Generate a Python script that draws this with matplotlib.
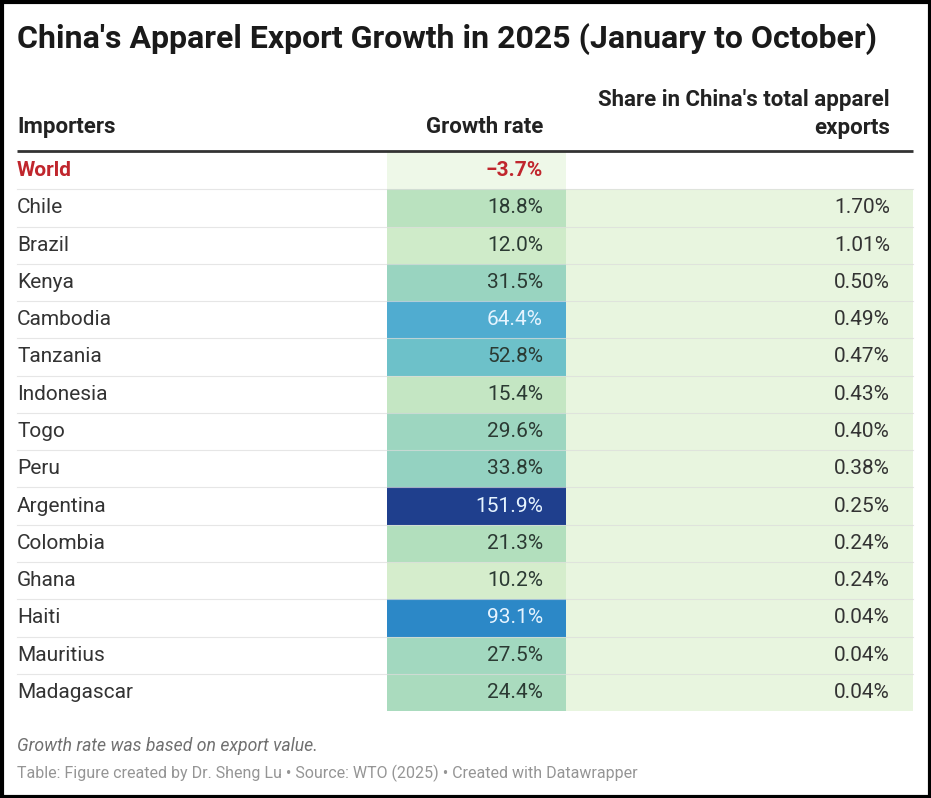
import matplotlib.pyplot as plt
from matplotlib.colors import LinearSegmentedColormap, Normalize

# Table data
importers = ["World", "Chile", "Brazil", "Kenya", "Cambodia", "Tanzania", "Indonesia",
             "Togo", "Peru", "Argentina", "Colombia", "Ghana", "Haiti", "Mauritius", "Madagascar"]
growth = [-3.7, 18.8, 12.0, 31.5, 64.4, 52.8, 15.4, 29.6, 33.8, 151.9, 21.3, 10.2, 93.1, 27.5, 24.4]
share = [None, 1.70, 1.01, 0.50, 0.49, 0.47, 0.43, 0.40, 0.38, 0.25, 0.24, 0.24, 0.04, 0.04, 0.04]

title = "China's Apparel Export Growth in 2025 (January to October)"
col_headers = ["Importers", "Growth rate", "Share in China's total apparel\nexports"]
note = "Growth rate was based on export value."
source = "Table: Figure created by Dr. Sheng Lu \u2022 Source: WTO (2025) \u2022 Created with Datawrapper"

plt.rcParams['font.family'] = ['Roboto', 'DejaVu Sans']

# colour scale for growth column
scale_vals = [-3.7, 10, 20, 30, 52, 65, 93, 152]
scale_cols = ["#eef8e8", "#d4edcb", "#b5e0bc", "#9bd5c0", "#6ec2c9", "#4eaad0", "#2c88c7", "#1f3f8d"]
norm = Normalize(min(scale_vals), max(scale_vals))
cmap = LinearSegmentedColormap.from_list(
    "dw", [(norm(v), c) for v, c in zip(scale_vals, scale_cols)])

W, H = 931, 798
fig = plt.figure(figsize=(W / 100, H / 100), dpi=100)
ax = fig.add_axes([0, 0, 1, 1])
ax.set_xlim(0, W)
ax.set_ylim(H, 0)
ax.axis("off")

top = 152
row_h = 37.27
n = len(importers)
ys = [top + row_h * (i + 0.5) for i in range(n)]
fs = 15

# cells
cell_cols = [cmap(norm(g)) for g in growth]
ax.barh(ys, 179, left=387, height=row_h, color=cell_cols, zorder=1)
share_rows = [y for y, s in zip(ys, share) if s is not None]
ax.barh(share_rows, 347, left=566, height=row_h, color="#e8f5df", zorder=1)

# row separators
for i in range(1, n):
    yb = top + row_h * i
    ax.plot([17, 913], [yb, yb], color="#dcdcdc", lw=0.8, alpha=0.7, zorder=2)

# header line
ax.plot([17, 913], [151, 151], color="#333333", lw=2.0, zorder=3, solid_capstyle="butt")

# title and headers
ax.text(17, 39, title, fontsize=23, fontweight="bold", color="#1a1a1a", va="center", ha="left")
ax.text(17, 127, col_headers[0], fontsize=16, fontweight="bold", color="#222222", va="center")
ax.text(543, 127, col_headers[1], fontsize=16, fontweight="bold", color="#222222", va="center", ha="right")
ax.text(890, 114, col_headers[2], fontsize=16, fontweight="bold", color="#222222", va="center",
        ha="right", multialignment="right", linespacing=1.3)

# rows
for i, (name, g, s) in enumerate(zip(importers, growth, share)):
    y = ys[i]
    if name == "World":
        ax.text(17, y, name, fontsize=fs, fontweight="bold", color="#c0262d", va="center")
        ax.text(543, y, "\u2212%.1f%%" % abs(g) if g < 0 else "%.1f%%" % g, fontsize=fs,
                fontweight="bold", color="#c0262d", va="center", ha="right")
        continue
    ax.text(17, y, name, fontsize=fs, color="#333333", va="center")
    tcol = "#e6f4ff" if g > 60 else "#2b3a33"
    ax.text(543, y, "%.1f%%" % g, fontsize=fs, color=tcol, va="center", ha="right")
    ax.text(890, y, "%.2f%%" % s, fontsize=fs, color="#333333", va="center", ha="right")

# notes
ax.text(17, 746, note, fontsize=12.7, style="italic", color="#707070", va="center")
ax.text(17, 773, source, fontsize=11.5, color="#959595", va="center")

# outer frame
ax.add_patch(plt.Rectangle((1.5, 1.5), W - 3, H - 3, fill=False, ec="black", lw=3, zorder=5))

fig.savefig("out.png", dpi=100)
plt.close(fig)
